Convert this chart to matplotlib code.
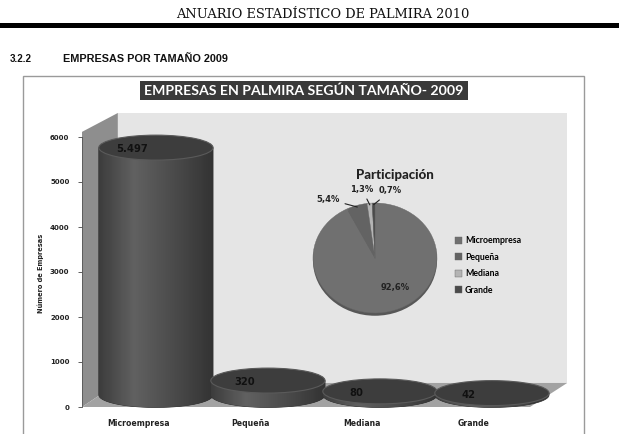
import numpy as np
import matplotlib
matplotlib.use("Agg")
import matplotlib.pyplot as plt
from matplotlib.patches import Rectangle, Ellipse, Polygon, PathPatch
from matplotlib.path import Path

# data
categories = ["Microempresa", "Pequeña", "Mediana", "Grande"]
empresas = [5497, 320, 80, 42]
total_empresas = 5939
y_ticks = [0, 1000, 2000, 3000, 4000, 5000, 6000]
pie_colors = ["#707070", "#636363", "#b4b4b4", "#4a4a4a"]

W, H = 619, 434
SANS = ["Lato", "DejaVu Sans"]
BOLD = ["DejaVu Sans"]
NARROW = ["Liberation Sans Narrow", "Liberation Sans", "DejaVu Sans"]

fig = plt.figure(figsize=(W / 100, H / 100), dpi=100)
fig.patch.set_facecolor("white")


def box(x0, y0, x1, y1):
    """pixel box (top-left origin) -> figure fraction rect"""
    return [x0 / W, 1 - y1 / H, (x1 - x0) / W, (y1 - y0) / H]


# page layer in pixel units
page = fig.add_axes([0, 0, 1, 1])
page.set_xlim(0, W)
page.set_ylim(H, 0)
page.axis("off")

page.text(323, 14, "ANUARIO ESTADÍSTICO DE PALMIRA 2010", ha="center", va="center",
          fontsize=9.4, family=["DejaVu Serif"], color="#111")
page.add_patch(Rectangle((0, 23), W, 5, color="black", lw=0))
page.text(10, 59, "3.2.2", ha="left", va="center", fontsize=7, weight="bold",
          family=NARROW, color="#111")
page.text(63, 59, "EMPRESAS POR TAMAÑO 2009", ha="left", va="center", fontsize=7.8,
          weight="bold", family=NARROW, color="#111")

# chart frame and title banner
page.add_patch(Rectangle((23, 76), 561, 380, facecolor="white", edgecolor="#9a9a9a", lw=1))
page.add_patch(Rectangle((140, 81), 328, 19, color="#3a3a3a", lw=0))
page.text(304, 90.5, "EMPRESAS EN PALMIRA SEGÚN TAMAÑO- 2009", ha="center", va="center",
          fontsize=10.2, weight="bold", family=SANS, color="white")
page.text(475, 126, f"TOTAL EMPRESAS: {total_empresas:,}".replace(",", "."),
          ha="center", va="center", fontsize=6.8, weight="black", family=SANS, color="#111")

# bar axes (front plane of the 3D box)
ax = fig.add_axes(box(82, 137, 530, 407))
ax.set_xlim(-0.5, len(categories) - 0.5)
ax.set_ylim(0, 6000)
ax.set_facecolor("none")

# walls and floor in axes fractions
bx, by = 0.080, 0.089
ax.add_patch(Rectangle((bx, by), 1.083 - bx, 1.089 - by, transform=ax.transAxes,
                       facecolor="#e5e5e5", lw=0, clip_on=False, zorder=0))
ax.add_patch(Polygon([(0, 0), (0, 1.019), (bx, 1.089), (bx, by)], closed=True,
                     transform=ax.transAxes, facecolor="#8e8e8e", lw=0, clip_on=False, zorder=0))
ax.add_patch(Polygon([(0, 0), (1.0, 0), (1.083, by), (bx, by)], closed=True,
                     transform=ax.transAxes, facecolor="#a2a2a2", lw=0, clip_on=False, zorder=0))

# cylinders
dx, dy = 0.16, 267       # depth offset (category units, value units)
cw, eh = 1.02, 555       # cylinder width, ellipse height
grad = np.interp(np.linspace(0, 1, 64), [0, 0.3, 0.75, 1], [0.24, 0.38, 0.27, 0.2])
grad_img = np.tile(grad, (2, 1))

for i, v in enumerate(empresas):
    cx = i + dx
    y0, y1 = dy, v + dy
    t = np.linspace(np.pi, 2 * np.pi, 60)
    arc = np.column_stack([cx + cw / 2 * np.cos(t), y0 + eh / 2 * np.sin(t)])
    verts = np.vstack([[cx - cw / 2, y1], arc, [cx + cw / 2, y1], [cx - cw / 2, y1]])
    body = PathPatch(Path(verts), facecolor="#3a3a3a", lw=0.5, edgecolor="#2a2a2a",
                     clip_on=False, zorder=2)
    ax.add_patch(body)
    im = ax.imshow(grad_img, cmap="gray", vmin=0, vmax=1, aspect="auto",
                   extent=[cx - cw / 2, cx + cw / 2, y0 - eh / 2, y1],
                   interpolation="bilinear", zorder=2.5)
    im.set_clip_path(body)
    ax.add_patch(Ellipse((cx, y1), cw, eh, facecolor="#3d3d3d", edgecolor="#5a5a5a",
                         lw=0.8, clip_on=False, zorder=3))
    ax.text(i - 0.05, v + 230, f"{v:,}".replace(",", "."), ha="center", va="center",
            fontsize=7.2, weight="bold", family=BOLD, color="#111", zorder=4)

ax.set_xlim(-0.5, len(categories) - 0.5)
ax.set_ylim(0, 6000)
ax.set_yticks(y_ticks)
ax.set_yticklabels([str(t) for t in y_ticks], fontsize=5, weight="bold", color="#222")
ax.set_xticks(range(len(categories)))
ax.set_xticklabels(categories, fontsize=5.6, weight="bold", color="#222")
ax.tick_params(axis="x", length=0, pad=9)
ax.tick_params(axis="y", length=3, width=0.6, color="#444", pad=6)
for s in ["top", "right", "bottom"]:
    ax.spines[s].set_visible(False)
ax.spines["left"].set_color("#555")
ax.spines["left"].set_linewidth(0.6)
ax.set_ylabel("Número de Empresas", fontsize=4.8, weight="bold", color="#222")
ax.yaxis.set_label_coords(-0.085, 0.496)

# pie of shares
pax = fig.add_axes(box(313, 203, 437, 313))
pax.add_patch(Ellipse((0, -0.05), 2, 2, color="#575757", lw=0, clip_on=False))
wedges, _ = pax.pie(empresas, colors=pie_colors, startangle=90, counterclock=False,
                    wedgeprops=dict(lw=0.3, edgecolor="#666"))
pax.set_xlim(-1, 1)
pax.set_ylim(-1, 1)
pax.set_aspect("auto")

shares = [v / total_empresas * 100 for v in empresas]
labels = [f"{s:.1f}%".replace(".", ",") for s in shares]
pax.text(0.32, -0.53, labels[0], ha="center", va="center", fontsize=6,
         weight="bold", family=BOLD, color="#222")
text_pos = [None, (-0.76, 1.07), (-0.21, 1.25), (0.25, 1.22)]
for w, lab, pos in zip(wedges[1:], labels[1:], text_pos[1:]):
    mid = np.deg2rad((w.theta1 + w.theta2) / 2)
    pax.annotate(lab, xy=(0.97 * np.cos(mid), 0.97 * np.sin(mid)), xytext=pos,
                 ha="center", va="center", fontsize=6, weight="bold", family=BOLD,
                 color="#222", annotation_clip=False,
                 arrowprops=dict(arrowstyle="-", color="#222", lw=0.8, shrinkA=2, shrinkB=0))
pax.text(0.32, 1.51, "Participación", ha="center", va="center", fontsize=9.5,
         weight="black", family=SANS, color="#222")

fig.legend(wedges, categories, loc="upper left", bbox_to_anchor=(451 / W, 1 - 232 / H),
           frameon=False, prop=dict(family=SANS, size=6.3, weight="bold"), handlelength=0.8,
           handleheight=0.8, handletextpad=0.3, labelspacing=0.85, borderpad=0)

fig.savefig("out.png", dpi=100, facecolor="white")
